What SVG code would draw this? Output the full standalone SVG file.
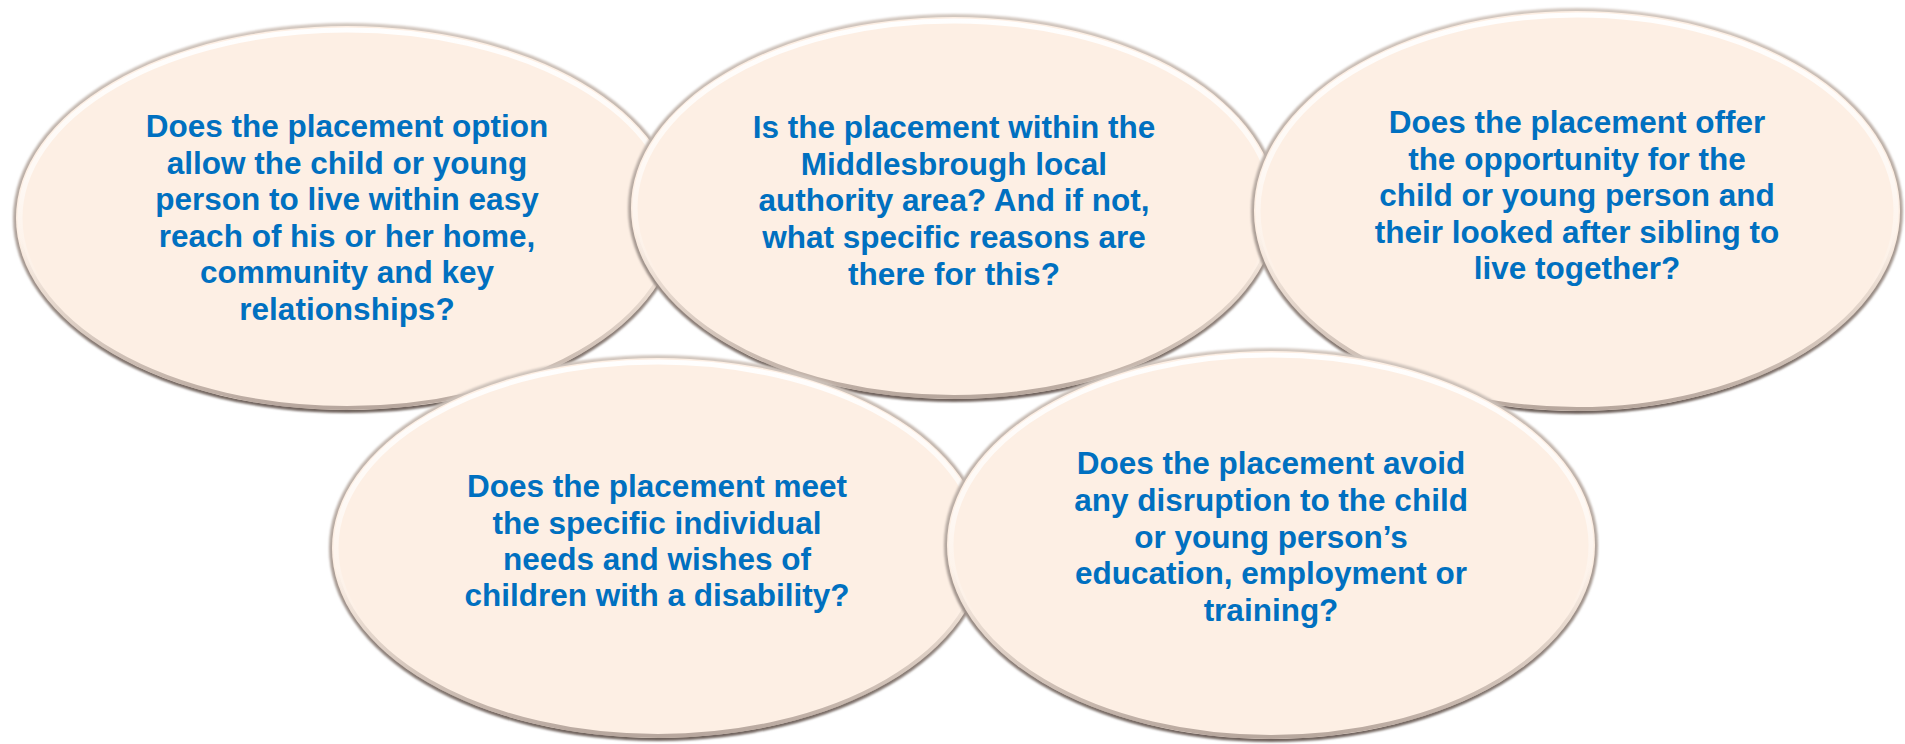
<svg xmlns="http://www.w3.org/2000/svg" width="1905" height="744" viewBox="0 0 1905 744">
<style>
.rim{fill:url(#rimG);filter:url(#soft)}
.body{fill:#FDEFE4}
.hl{fill:none;stroke:url(#hlG);stroke-width:5}
.sh{fill:none;stroke:url(#shG);stroke-width:4}
.t{font-family:"Liberation Sans",Arial,sans-serif;font-weight:bold;font-size:31.5px;fill:#0070C0;text-anchor:middle}
</style>
<defs>
<filter id="soft" x="-5%" y="-5%" width="110%" height="110%"><feGaussianBlur stdDeviation="0.9"/></filter>
<linearGradient id="rimG" x1="0" y1="0" x2="0" y2="1">
<stop offset="0" stop-color="#d2c7bf"/>
<stop offset="0.5" stop-color="#b3a69e"/>
<stop offset="1" stop-color="#6f625c"/>
</linearGradient>
<linearGradient id="hlG" x1="0" y1="0" x2="0" y2="1">
<stop offset="0" stop-color="#ffffff" stop-opacity="0.95"/>
<stop offset="0.4" stop-color="#ffffff" stop-opacity="0.6"/>
<stop offset="0.7" stop-color="#ffffff" stop-opacity="0"/>
</linearGradient>
<linearGradient id="shG" x1="0" y1="0" x2="0" y2="1">
<stop offset="0.55" stop-color="#b0a298" stop-opacity="0"/>
<stop offset="1" stop-color="#a08f86" stop-opacity="0.75"/>
</linearGradient>
</defs>

<g id="node1">
<ellipse class="rim" cx="347" cy="218" rx="334" ry="195"/>
<ellipse class="body" cx="347" cy="218" rx="331" ry="192"/>
<ellipse class="sh" cx="347" cy="218" rx="329" ry="190"/>
<ellipse class="hl" cx="347" cy="218" rx="327" ry="188"/>
<text class="t" x="347" y="137">Does the placement option</text>
<text class="t" x="347" y="173.6">allow the child or young</text>
<text class="t" x="347" y="210.2">person to live within easy</text>
<text class="t" x="347" y="246.8">reach of his or her home,</text>
<text class="t" x="347" y="283.4">community and key</text>
<text class="t" x="347" y="320">relationships?</text>
</g>

<g id="node2">
<ellipse class="rim" cx="954" cy="208" rx="326" ry="194"/>
<ellipse class="body" cx="954" cy="208" rx="323" ry="191"/>
<ellipse class="sh" cx="954" cy="208" rx="321" ry="189"/>
<ellipse class="hl" cx="954" cy="208" rx="319" ry="187"/>
<text class="t" x="954" y="138">Is the placement within the</text>
<text class="t" x="954" y="175">Middlesbrough local</text>
<text class="t" x="954" y="211">authority area? And if not,</text>
<text class="t" x="954" y="248">what specific reasons are</text>
<text class="t" x="954" y="285">there for this?</text>
</g>

<g id="node3">
<ellipse class="rim" cx="1577" cy="211" rx="326" ry="203"/>
<ellipse class="body" cx="1577" cy="211" rx="323" ry="200"/>
<ellipse class="sh" cx="1577" cy="211" rx="321" ry="198"/>
<ellipse class="hl" cx="1577" cy="211" rx="319" ry="196"/>
<text class="t" x="1577" y="133">Does the placement offer</text>
<text class="t" x="1577" y="169.5">the opportunity for the</text>
<text class="t" x="1577" y="206">child or young person and</text>
<text class="t" x="1577" y="242.5">their looked after sibling to</text>
<text class="t" x="1577" y="279">live together?</text>
</g>

<g id="node4">
<ellipse class="rim" cx="658" cy="548" rx="329" ry="193"/>
<ellipse class="body" cx="658" cy="548" rx="326" ry="190"/>
<ellipse class="sh" cx="658" cy="548" rx="324" ry="188"/>
<ellipse class="hl" cx="658" cy="548" rx="322" ry="186"/>
<text class="t" x="657" y="497">Does the placement meet</text>
<text class="t" x="657" y="533.5">the specific individual</text>
<text class="t" x="657" y="570">needs and wishes of</text>
<text class="t" x="657" y="606">children with a disability?</text>
</g>

<g id="node5">
<ellipse class="rim" cx="1271" cy="545" rx="327" ry="197"/>
<ellipse class="body" cx="1271" cy="545" rx="324" ry="194"/>
<ellipse class="sh" cx="1271" cy="545" rx="322" ry="192"/>
<ellipse class="hl" cx="1271" cy="545" rx="320" ry="190"/>
<text class="t" x="1271" y="474">Does the placement avoid</text>
<text class="t" x="1271" y="511">any disruption to the child</text>
<text class="t" x="1271" y="548">or young person’s</text>
<text class="t" x="1271" y="584">education, employment or</text>
<text class="t" x="1271" y="621">training?</text>
</g>

<g id="connectors"></g>
</svg>
